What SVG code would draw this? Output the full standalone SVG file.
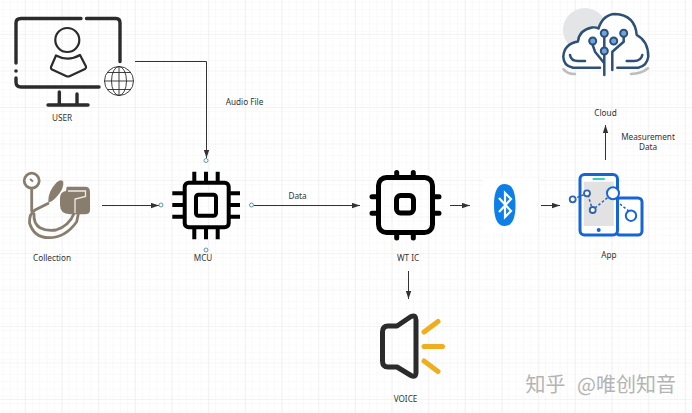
<svg xmlns="http://www.w3.org/2000/svg" width="692" height="413" viewBox="0 0 692 413">
<style>
text{font-family:"Noto Sans","Open Sans","Liberation Sans",sans-serif;font-size:8.2px;fill:#333;text-anchor:middle}
.c{fill:none;stroke:#333;stroke-width:1}
.port{fill:#fff;stroke:#3b7ea1;stroke-width:.8}
.blk{fill:none;stroke:#000;stroke-linecap:round;stroke-linejoin:round}
.mon{fill:none;stroke:#2b2b2b;stroke-width:3.4;stroke-linecap:round;stroke-linejoin:round}
.globe{fill:none;stroke:#2b2b2b;stroke-width:.9}
.navy{fill:none;stroke:#2c5078;stroke-width:2.5;stroke-linecap:round;stroke-linejoin:round}
.tube{fill:none;stroke:#897e6d;stroke-width:2.8;stroke-linecap:round;stroke-linejoin:round}
.y{stroke:#f0ae1d;stroke-width:5;stroke-linecap:round;fill:none}
.pt{fill:#fff;stroke:#2f62b0;stroke-width:1.800}
.wm{font-family:"Noto Sans CJK SC",sans-serif;font-size:20px;fill:#a8a8a8;text-anchor:start}
</style>
<defs>
<pattern id="minor" width="7.33" height="7.3" patternUnits="userSpaceOnUse" x="3.5" y="2.5"><path d="M7.33 0V7.3M0 7.3H7.33" fill="none" stroke="#f5f5f5" stroke-width="1"/></pattern>
<pattern id="major" width="36.67" height="36.5" patternUnits="userSpaceOnUse" x="25" y="-2.5"><path d="M0 0V36.5M0 0H36.67" fill="none" stroke="#e9e9e9" stroke-width="1"/></pattern>
<marker id="arr" markerWidth="8" markerHeight="6" refX="8" refY="3" orient="auto" markerUnits="userSpaceOnUse"><path d="M0 .3L8 3L0 5.7Z" fill="#333"/></marker>
</defs>
<rect width="692" height="413" fill="#fff"/>
<rect width="692" height="413" fill="url(#minor)"/>
<rect width="692" height="413" fill="url(#major)"/>
<rect x="483" y="178" width="55" height="55" fill="#fff"/>

<g id="connectors">
<path class="c" d="M135 61.500H206.500V158" marker-end="url(#arr)"/>
<path class="c" d="M102 205.500H159" marker-end="url(#arr)"/>
<path class="c" d="M254 205.500H360" marker-end="url(#arr)"/>
<path class="c" d="M450 205.500H470" marker-end="url(#arr)"/>
<path class="c" d="M541 205.500H560" marker-end="url(#arr)"/>
<path class="c" d="M408.500 271V299" marker-end="url(#arr)"/>
<path class="c" d="M605.500 160V125" marker-end="url(#arr)"/>
<text x="244.500" y="104.500">Audio File</text>
<text x="297.500" y="199">Data</text>
<text x="648" y="140">Measurement</text>
<text x="648" y="150">Data</text>
</g>

<g id="user">
<path class="mon" d="M16 63V23Q16 18.500 21 18.500H81M86.500 18.500H116Q120 18.500 120 23V61.500M16 78V82Q16 87 21 87H99"/>
<circle cx="16" cy="71" r="1.800" fill="#2b2b2b"/>
<path class="mon" d="M59.300 92V105M77 94V105M48 105H88"/>
<circle cx="67.300" cy="40" r="12" fill="none" stroke="#2b2b2b" stroke-width="2.200"/>
<path d="M56 55.500Q68 62 80 55L86 66.500Q86.500 68 85 69L70 76Q68 77 66 76L52 69.500Q50.500 68.500 51 67Z" fill="none" stroke="#2b2b2b" stroke-width="2.200" stroke-linejoin="round"/>
<g class="globe"><circle cx="119" cy="81" r="14.500"/><ellipse cx="119" cy="81" rx="7.500" ry="14.500"/><path d="M119 66.500V95.500M104.500 81H133.500M107 72.500H131M107 89.500H131"/></g>
<text x="62" y="120.500">USER</text>
</g>

<g id="collection">
<circle cx="31.700" cy="180.700" r="7.500" fill="#fff" stroke="#897e6d" stroke-width="2.800"/>
<path d="M30 179L33 181.500" stroke="#897e6d" stroke-width="2" fill="none"/>
<path class="tube" d="M31.700 189V211"/>
<path class="tube" d="M48 203.500L35 210Q29 214 29.500 223Q34 237.500 48.500 237.700Q65 238 76.700 221.700L78.500 213"/>
<path class="tube" d="M34 214Q33.500 224 40 227.700Q47 231.500 56 230Q69 226 74.300 213"/>
<path d="M48.300 202.300Q47.700 191.700 56.700 182.300Q61.700 178.300 63.300 181.700Q64.300 188.300 56.700 196.700Q51.700 202.300 48.300 202.300Z" fill="#897e6d"/>
<path d="M66.700 186.700H85Q90 186.700 90 192V210Q90 214.300 85 214.300H70Q60 214 60 205V198Q60 192 66 191Z" fill="#897e6d"/>
<path d="M68 191H85.500V196.500L75 199V213" fill="none" stroke="#efece6" stroke-width="1.300"/>
<text x="52" y="260.500">Collection</text>
</g>

<g id="mcu">
<rect x="184.700" y="182.700" width="44" height="44.600" rx="4" class="blk" stroke-width="4"/>
<rect x="196" y="194.700" width="20" height="21" rx="2.500" class="blk" stroke-width="4"/>
<path class="blk" stroke-width="4" style="stroke-linecap:butt" d="M194.300 171.700V182M206 171.700V182M217.700 171.700V182M194.300 228V239.300M206 228V239.300M217.700 228V239.300M172.300 193.300H184M172.300 205H184M172.300 216.700H184M229 193.300H240M229 205H240M229 216.700H240"/>
<circle class="port" cx="206" cy="160.500" r="2"/><circle class="port" cx="161" cy="205" r="2"/><circle class="port" cx="251.500" cy="205" r="2"/><circle class="port" cx="206" cy="250" r="2"/>
<text x="203" y="260.500">MCU</text>
</g>

<g id="wt-ic">
<rect x="378.500" y="177.500" width="54" height="55" rx="8" class="blk" stroke-width="5"/>
<rect x="396.500" y="195.500" width="17" height="17.500" rx="4" class="blk" stroke-width="5"/>
<path class="blk" stroke-width="5" d="M396.700 172.500V177M413.300 172.500V177M396.700 233V238M413.300 233V238M372 196.700H378M372 213.300H378M433 196.700H439M433 213.300H439"/>
<text x="408" y="260.500">WT IC</text>
</g>

<g id="bluetooth">
<path d="M504.700 184Q515.500 184 515.500 205Q515.500 226 504.700 226Q494 226 494 205Q494 184 504.700 184Z" fill="#0d7fe8"/>
<path d="M499 198L511 211L505 217V193L511 199L499 212" fill="none" stroke="#fff" stroke-width="2.200"/>
</g>

<g id="app">
<rect x="616" y="198" width="26" height="37" rx="4" fill="#fff" stroke="#1565d8" stroke-width="3"/>
<rect x="580" y="174.500" width="37.500" height="60.500" rx="4.500" fill="#fff" stroke="#1565d8" stroke-width="3"/>
<rect x="583.700" y="181.700" width="30" height="44.300" fill="#e2e2e2"/>
<path d="M592.700 179H604.700" stroke="#2fd0c8" stroke-width="2"/>
<circle cx="598.700" cy="230" r="2" fill="#1565d8"/>
<path d="M573 199L587 193.500M588 195L592 208M595 208L612 194M620 204L630 212" fill="none" stroke="#2f62b0" stroke-width="1.500" stroke-dasharray="2.500 2"/>
<circle class="pt" cx="572.700" cy="199.300" r="3"/>
<circle class="pt" cx="587" cy="193.300" r="3"/>
<circle class="pt" cx="592.700" cy="210" r="3"/>
<circle cx="613" cy="193.300" r="6" fill="#fff" stroke="#1565d8" stroke-width="2"/>
<circle cx="631" cy="215.700" r="5.200" fill="#fff" stroke="#1565d8" stroke-width="2"/>
<text x="609" y="258">App</text>
</g>

<g id="cloud">
<circle cx="585" cy="30" r="22" fill="#e4e5e7"/>
<path d="M563.500 69.300Q567 74 575 74M631 74Q641 74 648 68.300" fill="none" stroke="#bdbdbd" stroke-width="2.600" stroke-linecap="round"/>
<path d="M617.300 67.700H600H573Q563.500 66 563.300 56.700Q564 44 578 41.500Q579 30 592 27.500Q596 27 598.500 28.500Q603 14.500 615 14Q635 15 636.700 35Q648.300 41 648.300 56.700Q647 66 638.300 67.700Z" fill="#fff"/>
<path class="navy" d="M600 67.700H573Q563.500 66 563.300 56.700Q564 44 578 41.500Q579 30 592 27.500Q596 27 598.500 28.500Q603 14.500 615 14Q635 15 636.700 35Q648.300 41 648.300 56.700Q647 66 638.300 67.700H617.300"/>
<path class="navy" d="M570 55Q571 61 578 61H585M642.300 55Q641 61 634 61H626.700"/>
<path class="navy" d="M604.300 37V47M592.700 45L595 51.700L604.300 63.300V75M604.300 55V63M623.700 37V41.700L612.300 51.700V70"/>
<path d="M604.300 81V81.100M604.300 86.700V86.800M612.300 76V76.100M612.300 81V81.100" stroke="#2c5078" stroke-width="2.500" fill="none"/>
<g fill="#6ea5dc" stroke="#2c5078" stroke-width="2"><circle cx="604.300" cy="33.300" r="3.500"/><circle cx="592.700" cy="41" r="3.500"/><circle cx="613.700" cy="41" r="3.500"/><circle cx="604.300" cy="51" r="3.500"/><circle cx="623.700" cy="33.300" r="3.500"/></g>
<text x="605.500" y="115.500">Cloud</text>
</g>

<g id="voice">
<path d="M397 326L411 316.500Q416 314.500 416 320V372Q416 378 411 375.500L397 367H388Q382.500 367 382.500 361V332Q382.500 326 388 326Z" fill="none" stroke="#2b2b2b" stroke-width="5" stroke-linejoin="round"/>
<path class="y" d="M424 332L438 321.500M424 346.500H442.500M424 361L438 371.500"/>
<text x="405.500" y="402">VOICE</text>
</g>

<text class="wm" x="525.500" y="391.500" opacity=".85">知乎</text>
<text class="wm" x="577" y="391.500" opacity=".85">@唯创知音</text>
</svg>
